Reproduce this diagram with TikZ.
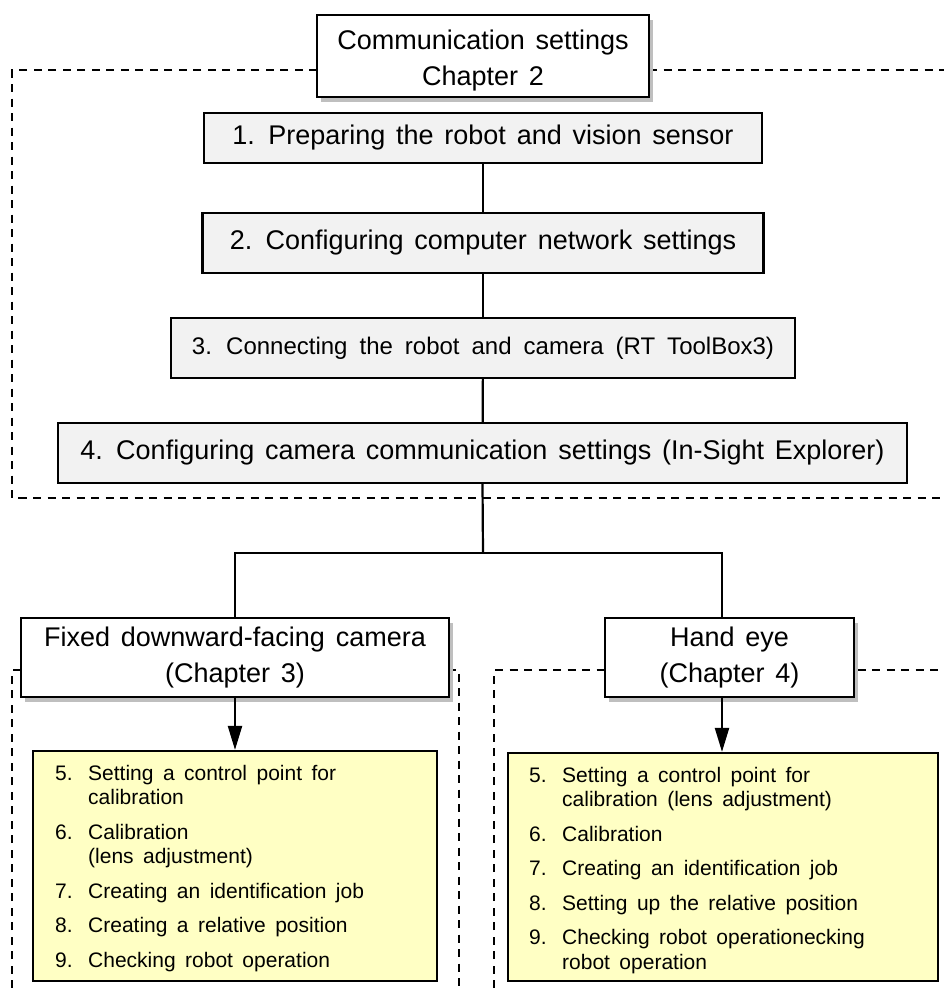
\documentclass[tikz,border=0pt]{standalone}
\usepackage{fontspec}
\setmainfont{Liberation Sans}
\usetikzlibrary{arrows.meta,shadows}
\definecolor{boxgray}{HTML}{F2F2F2}
\definecolor{noteyellow}{HTML}{FFFFC4}
\definecolor{shadowgray}{HTML}{BFBFBF}
\newcommand\txtA{\fontsize{27}{36}\selectfont\spaceskip=0.4em plus 0.1em\relax}
\newcommand\txtB{\fontsize{24}{30}\selectfont\spaceskip=0.5em plus 0.1em\relax}
\newcommand\txtC{\fontsize{21}{24.5}\selectfont\spaceskip=0.45em plus 0.1em\relax}
\begin{document}
\begin{tikzpicture}[x=1pt,y=-1pt,
  frame/.style={draw=black,line width=2.2pt,rectangle,inner sep=0pt,align=center},
  graybox/.style={frame,fill=boxgray,font=\txtA},
  whitebox/.style={frame,fill=white,font=\txtA,drop shadow={shadow xshift=4pt,shadow yshift=-5pt,fill=shadowgray,opacity=1}},
  notebox/.style={frame,fill=noteyellow},
  notetext/.style={anchor=base west,inner sep=0pt,font=\txtC,align=left},
  link/.style={line width=2.2pt},
  zone/.style={line width=2.2pt,dash pattern=on 8pt off 6.5pt}]
\useasboundingbox (0,0) rectangle (944,988);

% dashed zones
\draw[zone] (317,70) -- (12,70) -- (12,498) -- (944,498);
\draw[zone] (649,70) -- (944,70);
\draw[zone] (12,988) -- (12,670) -- (459,670) -- (459,988);
\draw[zone] (494,988) -- (494,670) -- (944,670);

% top title
\node[whitebox,minimum width=332pt,minimum height=82pt] (top) at (483,56) {};
\node[font=\txtA,align=center,inner sep=0pt] (toptitle) at (483,61) {Communication settings\\Chapter 2};

% steps 1-4
\node[graybox,minimum width=558pt,minimum height=50pt] (s1) at (483,138) {1. Preparing the robot and vision sensor};
\node[graybox,minimum width=561pt,minimum height=60pt] (s2) at (483,243) {2. Configuring computer network settings};
\node[graybox,font=\txtB,minimum width=624pt,minimum height=60pt] (s3) at (483,348) {3. Connecting the robot and camera (RT ToolBox3)};
\node[graybox,minimum width=849pt,minimum height=60pt] (s4) at (482.5,453) {4. Configuring camera communication settings (In-Sight Explorer)};

% branch boxes
\node[whitebox,minimum width=428pt,minimum height=79pt] (fixed) at (235,657.5) {Fixed downward-facing camera\\(Chapter 3)};
\node[whitebox,minimum width=249pt,minimum height=79pt] (hand) at (729.5,657.5) {Hand eye\\(Chapter 4)};

% note boxes
\node[notebox,minimum width=404pt,minimum height=230pt] (noteL) at (235,866) {};
\node[notebox,minimum width=430pt,minimum height=228pt] (noteR) at (723,867) {};

\node[notetext] (listL) at (55,780) {\begin{tabular}[t]{@{}p{33pt}@{}l@{}}
5.& Setting a control point for\\
  & calibration\\[10pt]
6.& Calibration\\
  & (lens adjustment)\\[10pt]
7.& Creating an identification job\\[10pt]
8.& Creating a relative position\\[10pt]
9.& Checking robot operation
\end{tabular}};

\node[notetext] (listR) at (529,782) {\begin{tabular}[t]{@{}p{33pt}@{}l@{}}
5.& Setting a control point for\\
  & calibration (lens adjustment)\\[10pt]
6.& Calibration\\[10pt]
7.& Creating an identification job\\[10pt]
8.& Setting up the relative position\\[10pt]
9.& Checking robot operationecking\\
  & robot operation
\end{tabular}};

% connectors
\coordinate (split) at (483,553);
\coordinate (rightturn) at (722,553);
\draw[link] (s1) -- (s2);
\draw[link] (s2) -- (s3);
\draw[link] (s3) -- (s4);
\draw[link] (s4.south) -- (split);
\draw[link] (fixed.north) |- (rightturn) -- (rightturn |- hand.north);
\draw[link,-{Triangle[length=24pt,width=14pt]}] (fixed.south) -- (noteL.north);
\draw[link,-{Triangle[length=24pt,width=14pt]}] (rightturn |- hand.south) -- (rightturn |- noteR.north);
\end{tikzpicture}
\end{document}
